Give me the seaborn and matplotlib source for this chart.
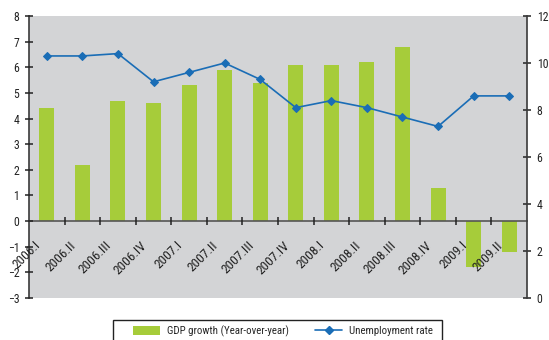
import numpy as np
import pandas as pd
import matplotlib
matplotlib.use("Agg")
import matplotlib.pyplot as plt
import matplotlib.transforms as mtransforms
from matplotlib import font_manager as fm
from matplotlib.patches import Patch, Rectangle
from matplotlib.lines import Line2D
import seaborn as sns

quarters = ["2006.I", "2006.II", "2006.III", "2006.IV",
            "2007.I", "2007.II", "2007.III", "2007.IV",
            "2008.I", "2008.II", "2008.III", "2008.IV",
            "2009.I", "2009.II"]
gdp_growth = [4.4, 2.2, 4.7, 4.6, 5.3, 5.9, 5.4, 6.1, 6.1, 6.2, 6.8, 1.3, -1.8, -1.2]
unemployment = [10.3, 10.3, 10.4, 9.2, 9.6, 10.0, 9.3, 8.1, 8.4, 8.1, 7.7, 7.3, 8.6, 8.6]

df = pd.DataFrame({"quarter": quarters, "pos": np.arange(len(quarters)),
                   "gdp": gdp_growth, "unemp": unemployment})

sns.set_theme(style="white")

# narrow sans face, first one available
installed = {f.name for f in fm.fontManager.ttflist}
preferred = ["Liberation Sans Narrow", "Arial Narrow", "Roboto Condensed",
             "PT Sans Narrow", "Archivo Narrow", "Asap Condensed", "Liberation Sans"]
face = next((n for n in preferred if n in installed), "DejaVu Sans")
plt.rcParams["font.family"] = [face, "DejaVu Sans"]

W, H = 549, 340
bar_color = "#a6cc3a"
line_color = "#1a6db6"
bg_color = "#d3d4d6"
axis_color = "#3a3a3a"

fig = plt.figure(figsize=(W / 100, H / 100), dpi=100)
ax = fig.add_axes([29 / W, 42 / H, 498 / W, 282 / H])
ax.set_facecolor(bg_color)

sns.barplot(data=df, x="pos", y="gdp", color=bar_color, width=0.42,
            saturation=1, ax=ax, native_scale=True, edgecolor="none")
ax.set_axisbelow(False)

ax2 = ax.twinx()
sns.lineplot(data=df, x="pos", y="unemp", color=line_color, marker="D",
             markersize=4.5, markeredgecolor=line_color, linewidth=1.2, ax=ax2)

ax.set_xlim(-0.5, len(quarters) - 0.5)
ax.set_ylim(-3, 8)
ax.set_yticks(range(-3, 9))
ax2.set_ylim(0, 12)
ax2.set_yticks(range(0, 13, 2))

for a in (ax, ax2):
    a.set_xlabel("")
    a.set_ylabel("")
    a.spines["top"].set_visible(False)

ax.spines["right"].set_visible(False)
ax2.spines["left"].set_visible(False)
ax2.spines["bottom"].set_visible(False)
ax.spines["bottom"].set_position(("data", 0))
ax.spines["bottom"].set_color("#555555")
ax.spines["bottom"].set_linewidth(1.2)
ax.spines["left"].set_color(axis_color)
ax.spines["left"].set_linewidth(1.2)
ax2.spines["right"].set_color(axis_color)
ax2.spines["right"].set_linewidth(1.2)

# category labels at the centres, tick marks at the boundaries
ax.set_xticks(np.arange(len(quarters)))
ax.set_xticklabels(quarters, rotation=45, ha="right", va="top",
                   rotation_mode="anchor", fontsize=9.6, color="#222222")
ax.set_xticks(np.arange(0.5, len(quarters) - 1, 1.0), minor=True)
ax.tick_params(axis="x", which="major", length=0, pad=7)
ax.tick_params(axis="x", which="minor", length=6, width=1.1, direction="inout",
               color="#222222", bottom=True)
shift = mtransforms.ScaledTranslation(-13 / 100, -8 / 100, fig.dpi_scale_trans)
for lbl in ax.get_xticklabels():
    lbl.set_transform(lbl.get_transform() + shift)

ax.tick_params(axis="y", which="major", length=6, width=1.1, direction="inout",
               color="#222222", labelsize=8.5, labelcolor="#222222", pad=4, left=True)
ax2.tick_params(axis="y", which="major", length=6, width=1.1, direction="inout",
                color="#222222", labelsize=8.5, labelcolor="#222222", pad=4, right=True)

# legend entries, with a square frame running off the bottom edge
handles = [Patch(facecolor=bar_color, edgecolor="none"),
           Line2D([0], [0], color=line_color, marker="D", markersize=4, linewidth=1.2)]
labels = ["GDP growth (Year-over-year)", "Unemployment rate"]
leg = fig.legend(handles, labels, loc="center left",
                 bbox_to_anchor=(133 / W, 1 - 331 / H), ncol=2, frameon=False,
                 fontsize=7.8, handlelength=2.5, handleheight=1.0,
                 columnspacing=2.4, borderpad=0, borderaxespad=0, handletextpad=0.65)
fig.add_artist(Rectangle((113 / W, -0.05), 329 / W, (H - 320) / H + 0.05,
                         transform=fig.transFigure, facecolor="none",
                         edgecolor="#222222", linewidth=1.0))

fig.savefig("out.png", dpi=100, facecolor="white")
